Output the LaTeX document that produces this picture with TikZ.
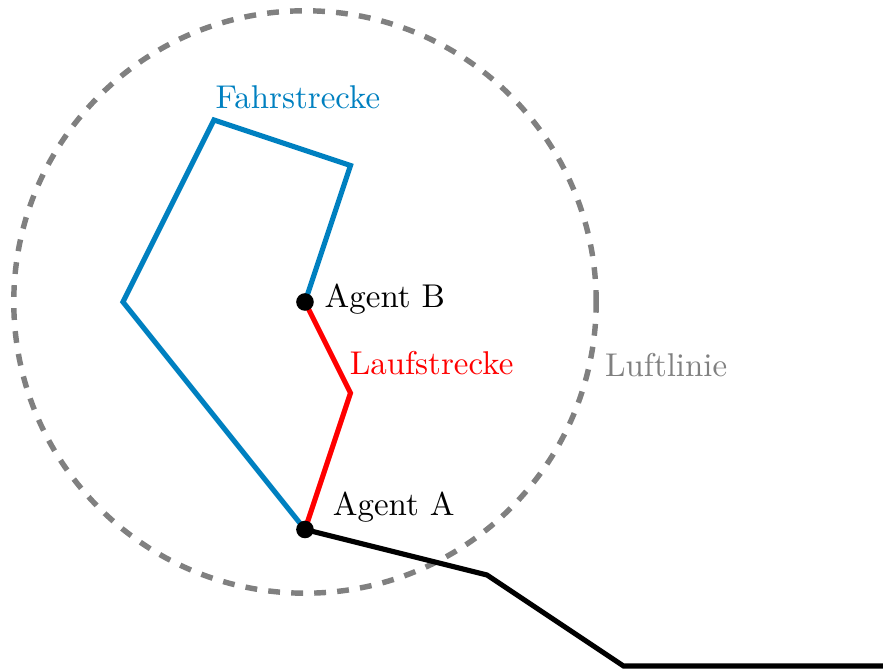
\documentclass[tikz,border=0pt]{standalone}
\definecolor{fahrblue}{RGB}{0,128,192}
\begin{document}
\begin{tikzpicture}[x=0.5cm,y=0.5cm,
  route/.style={line width=1.6pt,line join=miter},
  agentdot/.style={circle,fill=black,inner sep=0pt,minimum size=5.5pt},
  lbl/.style={anchor=base west,inner sep=0pt,font=\fontsize{10.3}{12.5}\selectfont}]
\useasboundingbox (-6.703,-8.088) rectangle (12.703,6.637);
\coordinate (B) at (0,0);
\coordinate (A) at (0,-5);
\coordinate (f1) at (-4,0);
\coordinate (f2) at (-2,4);
\coordinate (f3) at (1,3);
\coordinate (l1) at (1,-2);
\coordinate (s1) at (4,-6);
\coordinate (s2) at (7,-8);
\coordinate (s3) at (13,-8);
\draw[gray,line width=1.7pt,dash pattern=on 3.7pt off 3.5pt] (B) circle[radius=6.4];
\draw[route,fahrblue] (A) -- (f1) -- (f2) -- (f3) -- (B);
\draw[route,red] (B) -- (l1) -- (A);
\draw[route,black] (A) -- (s1) -- (s2) -- (s3);
\node[agentdot] (nB) at (B) {};
\node[agentdot] (nA) at (A) {};
\node[lbl,text=fahrblue] (tf) at (-1.978,4.242) {Fahrstrecke};
\node[lbl] (tb) at (0.42,-0.121) {Agent B};
\node[lbl,text=red] (tl) at (0.97,-1.604) {Laufstrecke};
\node[lbl] (ta) at (0.6,-4.703) {Agent A};
\node[lbl,text=gray] (tg) at (6.58,-1.648) {Luftlinie};
\end{tikzpicture}
\end{document}
